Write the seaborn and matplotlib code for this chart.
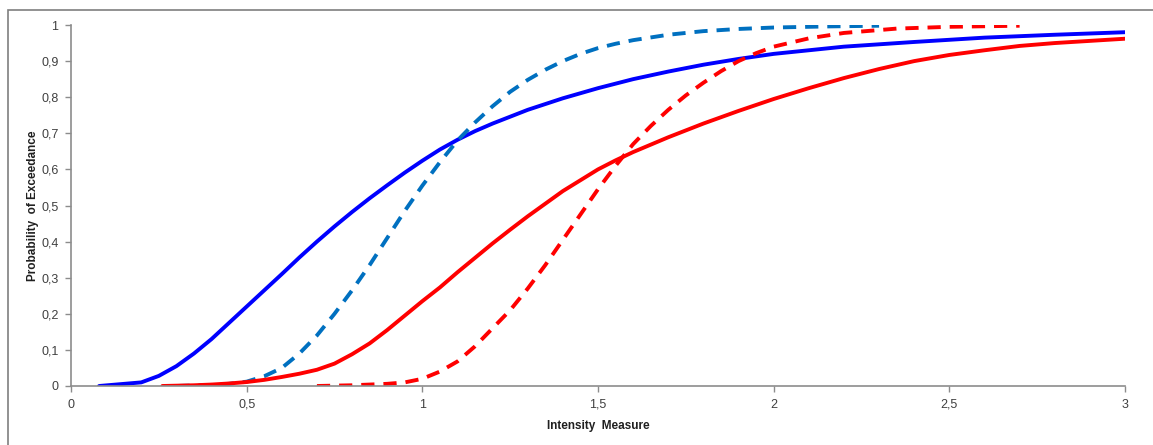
import numpy as np
import pandas as pd
import matplotlib
matplotlib.use("Agg")
import matplotlib.pyplot as plt
import matplotlib.ticker as mticker
import matplotlib.patches as patches
import seaborn as sns

# --- data (intensity measure vs probability of exceedance) ---
blue_solid_x = [0.08, 0.2, 0.25, 0.3, 0.35, 0.4, 0.45, 0.5, 0.55, 0.6, 0.65, 0.7, 0.75, 0.8,
                0.85, 0.9, 0.95, 1.0, 1.05, 1.1, 1.15, 1.2, 1.3, 1.4, 1.5, 1.6, 1.7, 1.8,
                1.9, 2.0, 2.2, 2.4, 2.6, 2.8, 3.0]
blue_solid_y = [0.0, 0.01, 0.028, 0.055, 0.09, 0.13, 0.175, 0.22, 0.265, 0.31, 0.356, 0.4, 0.442, 0.482,
                0.52, 0.556, 0.591, 0.624, 0.655, 0.682, 0.706, 0.727, 0.765, 0.797, 0.825, 0.85, 0.871, 0.89,
                0.906, 0.92, 0.94, 0.953, 0.965, 0.973, 0.98]

blue_dash_x = [0.3, 0.4, 0.45, 0.5, 0.55, 0.6, 0.65, 0.7, 0.75, 0.8, 0.85, 0.9, 0.95, 1.0, 1.05,
               1.1, 1.15, 1.2, 1.25, 1.3, 1.35, 1.4, 1.45, 1.5, 1.55, 1.6, 1.7, 1.8, 1.9, 2.0,
               2.15, 2.3]
blue_dash_y = [0.0, 0.003, 0.006, 0.012, 0.027, 0.05, 0.09, 0.14, 0.2, 0.265, 0.335, 0.41, 0.485, 0.555, 0.62,
               0.68, 0.73, 0.775, 0.815, 0.848, 0.876, 0.9, 0.92, 0.936, 0.948, 0.958, 0.973, 0.983, 0.989, 0.993,
               0.996, 0.998]

red_solid_x = [0.26, 0.35, 0.4, 0.45, 0.5, 0.55, 0.6, 0.65, 0.7, 0.75, 0.8, 0.85, 0.9, 0.95, 1.0,
               1.05, 1.1, 1.15, 1.2, 1.25, 1.3, 1.35, 1.4, 1.45, 1.5, 1.55, 1.6, 1.7, 1.8, 1.9,
               2.0, 2.1, 2.2, 2.3, 2.4, 2.5, 2.6, 2.7, 2.8, 2.9, 3.0]
red_solid_y = [0.0, 0.002, 0.004, 0.007, 0.011, 0.017, 0.025, 0.034, 0.045, 0.062, 0.088, 0.118, 0.155, 0.195, 0.235,
               0.273, 0.315, 0.355, 0.395, 0.433, 0.47, 0.505, 0.54, 0.57, 0.60, 0.625, 0.648, 0.689, 0.727, 0.762,
               0.795, 0.825, 0.853, 0.878, 0.9, 0.917, 0.93, 0.942, 0.95, 0.956, 0.962]

red_dash_x = [0.7, 0.8, 0.9, 0.95, 1.0, 1.05, 1.1, 1.15, 1.2, 1.25, 1.3, 1.35, 1.4, 1.45,
              1.5, 1.55, 1.6, 1.65, 1.7, 1.75, 1.8, 1.85, 1.9, 1.95, 2.0, 2.1, 2.2, 2.35,
              2.5, 2.7]
red_dash_y = [0.0, 0.002, 0.006, 0.01, 0.02, 0.04, 0.068, 0.11, 0.16, 0.21, 0.27, 0.335, 0.405, 0.475,
              0.545, 0.61, 0.67, 0.72, 0.765, 0.805, 0.84, 0.872, 0.9, 0.922, 0.94, 0.963, 0.978, 0.99,
              0.995, 0.998]

x_ticks = [0, 0.5, 1, 1.5, 2, 2.5, 3]
y_ticks = [0, 0.1, 0.2, 0.3, 0.4, 0.5, 0.6, 0.7, 0.8, 0.9, 1.0]

curves = {
    "blue_solid": (blue_solid_x, blue_solid_y),
    "blue_dash": (blue_dash_x, blue_dash_y),
    "red_solid": (red_solid_x, red_solid_y),
    "red_dash": (red_dash_x, red_dash_y),
}
frames = []
for name, (xs, ys) in curves.items():
    frames.append(pd.DataFrame({"IM": xs, "P": ys, "curve": name}))
df = pd.concat(frames, ignore_index=True)

palette = {"blue_solid": "#0000FF", "blue_dash": "#0070C0",
           "red_solid": "#FF0000", "red_dash": "#FF0000"}
dash_map = {"blue_solid": "", "blue_dash": (3.4, 2.3),
            "red_solid": "", "red_dash": (3.4, 2.3)}

sns.set_theme(style="white")
plt.rcParams["font.family"] = ["Liberation Sans", "DejaVu Sans"]

fig = plt.figure(figsize=(11.53, 4.45), dpi=100)
ax = fig.add_axes([71 / 1153, 1 - 386 / 445, (1125 - 71) / 1153, (386 - 25) / 445])

sns.lineplot(data=df, x="IM", y="P", hue="curve", style="curve",
             palette=palette, dashes=dash_map, sort=False, estimator=None,
             linewidth=2.8, legend=False, ax=ax)
for line in ax.lines:
    line.set_solid_joinstyle("round")
    line.set_dash_joinstyle("round")

ax.set_xlim(0, 3)
ax.set_ylim(0, 1)
ax.set_xticks(x_ticks)
ax.set_yticks(y_ticks)
fmt = mticker.FuncFormatter(lambda v, p: ("%g" % round(v, 2)).replace(".", ","))
ax.xaxis.set_major_formatter(fmt)
ax.yaxis.set_major_formatter(fmt)

for s in ["top", "right"]:
    ax.spines[s].set_visible(False)
for s in ["left", "bottom"]:
    ax.spines[s].set_color("#8c8c8c")
    ax.spines[s].set_linewidth(1.2)
ax.tick_params(axis="both", direction="out", length=4, width=1, color="#8c8c8c",
               labelsize=9, labelcolor="#404040", pad=5, left=True, bottom=True)
ax.grid(False)

ax.set_xlabel("Intensity  Measure", fontsize=8.5, fontweight="bold", color="#202020")
ax.set_ylabel("Probability  of Exceedance", fontsize=8.5, fontweight="bold", color="#202020")
ax.xaxis.set_label_coords(0.5, -0.095)
ax.yaxis.set_label_coords(-0.03, 0.5)

# outer chart frame
frame = patches.Rectangle((8 / 1153, -0.05), 1.2, 1 - 10 / 445 + 0.05, transform=fig.transFigure,
                          fill=False, edgecolor="#7f7f7f", linewidth=1.2, zorder=0)
fig.patches.append(frame)

fig.savefig("out.png", dpi=100)
